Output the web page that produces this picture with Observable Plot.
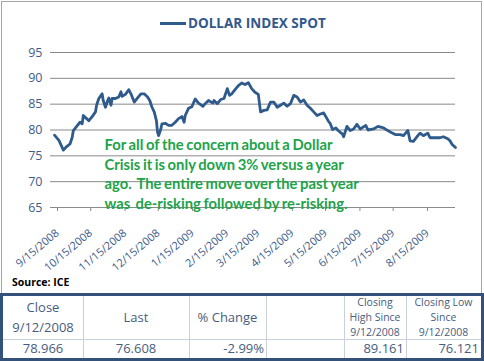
<!DOCTYPE html>
<html><head><meta charset="utf-8">
<script src="https://cdn.jsdelivr.net/npm/d3@7"></script>
<script src="https://cdn.jsdelivr.net/npm/@observablehq/plot@0.6"></script>
<style>
html,body{margin:0;padding:0;background:#fff;width:484px;height:361px;overflow:hidden;font-family:"Open Sans",sans-serif;}
#frame{position:absolute;left:1px;top:1px;width:479px;height:292px;border:1px solid #a6a6a6;}
#title{position:absolute;left:188px;top:13px;font:bold 13.5px "Open Sans",sans-serif;line-height:20px;color:#31598c;white-space:nowrap;}
#swatch{position:absolute;left:160px;top:22px;width:26px;height:3px;background:#2e5a8c;}
#chart{position:absolute;left:0;top:34px;}
#chart g[aria-label="text"]{word-spacing:-1px;}
#source{position:absolute;left:12px;top:274px;font:bold 10.5px "Open Sans",sans-serif;line-height:16px;color:#000;}
#tbl{position:absolute;left:0;top:293px;width:484px;height:68px;box-sizing:border-box;border:3px solid #34517a;}
.cell{position:absolute;display:flex;align-items:center;box-sizing:border-box;color:#475d80;font-size:13px;line-height:19.6px;white-space:nowrap;}
.small{font-size:10.5px;line-height:14.7px;}
.vl{position:absolute;width:1px;background:#c8d0dc;}
.hl{position:absolute;height:1px;background:#c8d0dc;}
</style>
</head><body>
<div id="frame"></div>
<div id="swatch"></div>
<div id="title">DOLLAR INDEX SPOT</div>
<div id="chart"></div>
<div id="source">Source: ICE</div>
<div id="tbl"></div>
<script>
const seriesName = "DOLLAR INDEX SPOT";
const dates = ["2008-09-15","2008-09-19","2008-09-23","2008-09-26","2008-09-29","2008-10-01","2008-10-02","2008-10-05","2008-10-08","2008-10-10","2008-10-11","2008-10-14","2008-10-16","2008-10-19","2008-10-22","2008-10-23","2008-10-25","2008-10-28","2008-10-29","2008-10-31","2008-11-02","2008-11-03","2008-11-05","2008-11-06","2008-11-09","2008-11-12","2008-11-14","2008-11-15","2008-11-18","2008-11-21","2008-11-23","2008-11-26","2008-11-29","2008-12-02","2008-12-05","2008-12-08","2008-12-10","2008-12-12","2008-12-14","2008-12-16","2008-12-17","2008-12-18","2008-12-20","2008-12-21","2008-12-24","2008-12-27","2008-12-30","2009-01-02","2009-01-05","2009-01-08","2009-01-10","2009-01-11","2009-01-14","2009-01-17","2009-01-20","2009-01-23","2009-01-27","2009-01-29","2009-02-01","2009-02-05","2009-02-06","2009-02-09","2009-02-12","2009-02-15","2009-02-18","2009-02-20","2009-02-22","2009-02-25","2009-02-28","2009-03-03","2009-03-06","2009-03-09","2009-03-12","2009-03-15","2009-03-18","2009-03-20","2009-03-23","2009-03-26","2009-03-29","2009-04-01","2009-04-04","2009-04-07","2009-04-10","2009-04-13","2009-04-16","2009-04-19","2009-04-22","2009-04-25","2009-04-28","2009-05-01","2009-05-04","2009-05-07","2009-05-10","2009-05-13","2009-05-16","2009-05-19","2009-05-20","2009-05-22","2009-05-24","2009-05-27","2009-05-29","2009-06-02","2009-06-03","2009-06-06","2009-06-09","2009-06-12","2009-06-15","2009-06-18","2009-06-23","2009-06-25","2009-06-30","2009-07-04","2009-07-09","2009-07-12","2009-07-17","2009-07-20","2009-07-24","2009-07-27","2009-07-31","2009-08-02","2009-08-05","2009-08-09","2009-08-11","2009-08-14","2009-08-18","2009-08-20","2009-08-25","2009-08-29","2009-09-01","2009-09-05","2009-09-07","2009-09-09","2009-09-12"];
const values = [79.0,78.0,76.1,76.8,77.3,78.6,79.9,80.7,81.5,81.2,82.8,82.2,81.8,82.6,83.5,84.8,86.1,87.0,85.7,84.4,85.7,86.2,84.8,86.1,86.1,86.4,87.4,86.5,86.9,87.8,87.0,85.4,86.2,87.0,87.0,86.4,85.7,84.4,83.5,81.8,79.6,78.9,80.2,81.2,81.3,80.9,80.9,81.5,82.2,82.6,81.5,82.8,84.2,84.5,86.0,85.2,84.6,85.1,85.7,85.2,85.7,85.1,85.9,86.1,88.0,86.7,87.0,87.8,88.6,89.1,88.8,89.16,88.0,87.3,86.9,83.5,83.8,83.9,85.4,85.4,84.4,84.8,85.2,84.6,85.1,86.7,86.4,85.4,85.8,84.8,84.2,83.5,82.8,83.1,83.3,82.2,81.8,81.2,80.1,80.4,79.9,79.2,78.7,80.7,79.9,80.2,81.1,80.2,80.9,80.0,80.2,80.7,80.4,80.0,79.4,79.1,79.1,78.9,79.9,77.9,77.8,78.9,79.4,78.9,79.4,78.5,78.5,78.5,78.7,78.3,77.9,77.2,76.6];
const yTicks = [65,70,75,80,85,90,95];
const xTickDates = ["2008-09-15","2008-10-15","2008-11-15","2008-12-15","2009-01-15","2009-02-15","2009-03-15","2009-04-15","2009-05-15","2009-06-15","2009-07-15","2009-08-15"];
const xDomain = ["2008-09-15","2009-09-12"];
const annotation = "For all of the concern about a Dollar\nCrisis it is only down 3% versus a year\nago.  The entire move over the past year\nwas  de-risking followed by re-risking.";
const sourceText = "Source: ICE";
const headers = [["Close","9/12/2008"],["Last"],["% Change"],[],["Closing","High Since","9/12/2008"],["Closing Low","Since","9/12/2008"]];
const rowValues = ["78.966","76.608","-2.99%","","89.161","76.121"];

const data = dates.map((d,i)=>({date:new Date(d), value:values[i]}));
const fmt = d => `${d.getUTCMonth()+1}/${d.getUTCDate()}/${d.getUTCFullYear()}`;

const chart = Plot.plot({
  width:484, height:240,
  marginTop:18, marginBottom:67, marginLeft:54, marginRight:29,
  style:{fontFamily:"Open Sans, sans-serif", background:"transparent", overflow:"visible"},
  x:{type:"utc", domain:xDomain.map(d=>new Date(d))},
  y:{domain:[65,95]},
  marks:[
    Plot.gridY(yTicks,{stroke:"#8a8a8a", strokeOpacity:1}),
    Plot.axisY(yTicks,{tickSize:4, tickPadding:8, stroke:"#8a8a8a", fill:"#3e5c8a", fontSize:12.5, label:null}),
    Plot.axisX(xTickDates.map(d=>new Date(d)),{tickSize:4, tickPadding:20, dx:3, tickRotate:-40, tickFormat:fmt, stroke:"#8a8a8a", fill:"#3e5c8a", fontSize:11, label:null}),
    Plot.line(data,{x:"date", y:"value", stroke:"#2e5a8c", strokeWidth:2.8, strokeLinejoin:"round"}),
    Plot.text([annotation],{text:d=>d, frameAnchor:"top-left", dx:50, dy:83.8, textAnchor:"start", lineAnchor:"top", lineHeight:1.32, fill:"#22a34a", fontSize:14.8, fontWeight:"bold", fontFamily:"Lato, sans-serif"})
  ]
});
document.getElementById("chart").appendChild(chart);
document.getElementById("title").textContent = seriesName;
document.getElementById("source").textContent = sourceText;

// table
const tbl = document.getElementById("tbl");
const colEdges = [0,80,186,263,341,403,478];
const rowEdges = [0,43,62];
const aligns = ["center","center","right","right","right","right"];
for (let c=0;c<6;c++){
  const h = document.createElement("div");
  h.className = "cell" + (c>=4 ? " small":"");
  h.style.left = colEdges[c]+"px"; h.style.width=(colEdges[c+1]-colEdges[c])+"px";
  h.style.top = rowEdges[0]+"px"; h.style.height=(rowEdges[1]-rowEdges[0])+"px";
  h.style.justifyContent="center"; h.style.textAlign="center"; h.style.flexDirection="column";
  h.innerHTML = headers[c].map(t=>`<div>${t}</div>`).join("");
  tbl.appendChild(h);
  const v = document.createElement("div");
  v.className="cell";
  v.style.left = colEdges[c]+"px"; v.style.width=(colEdges[c+1]-colEdges[c])+"px";
  v.style.top = (rowEdges[1]+1)+"px"; v.style.height=(rowEdges[2]-rowEdges[1]-1)+"px";
  v.style.justifyContent = aligns[c]==="center" ? "center" : "flex-end";
  v.style.paddingRight = aligns[c]==="right" ? "2px" : "0";
  v.textContent = rowValues[c];
  tbl.appendChild(v);
}
for (let c=1;c<6;c++){
  const l=document.createElement("div"); l.className="vl";
  l.style.left=colEdges[c]+"px"; l.style.top="0px"; l.style.height="62px"; tbl.appendChild(l);
}
const hl=document.createElement("div"); hl.className="hl";
hl.style.left="0px"; hl.style.top=rowEdges[1]+"px"; hl.style.width="478px"; tbl.appendChild(hl);
</script>
</body></html>
